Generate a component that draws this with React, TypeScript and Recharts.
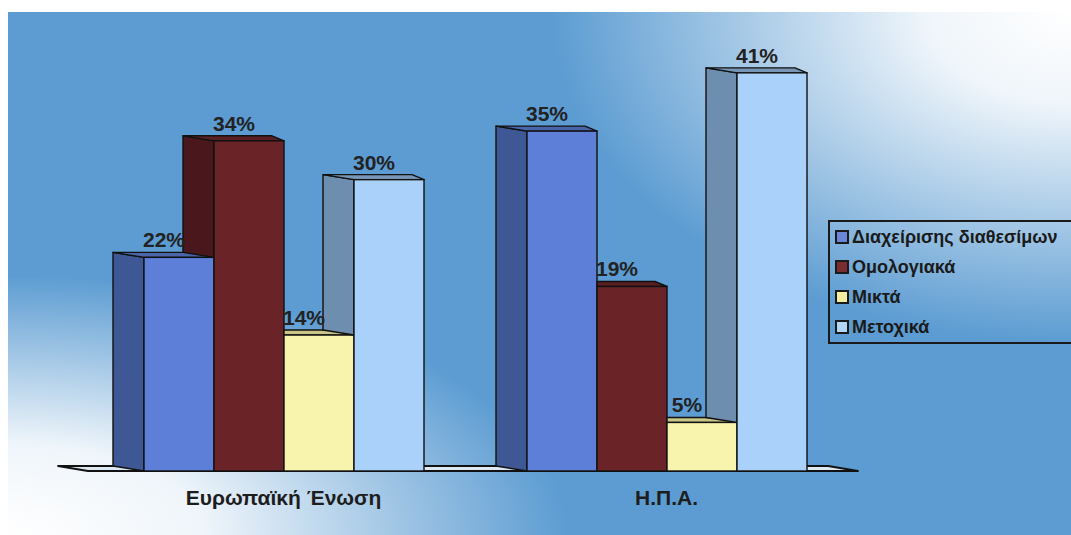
import React from "react";
import { BarChart, Bar, XAxis, YAxis, Legend, LabelList, usePlotArea } from "recharts";

const categories = ["Ευρωπαϊκή Ένωση", "Η.Π.Α."];
const seriesNames = ["Διαχείρισης διαθεσίμων", "Ομολογιακά", "Μικτά", "Μετοχικά"];
const diaxeirisi = [22, 35];
const omologiaka = [34, 19];
const mikta = [14, 5];
const metoxika = [30, 41];

const FONT = '"Liberation Sans", Arial, sans-serif';
const DX = 31;
const DY = 5;

const data = categories.map((name, i) => ({
  name,
  s0: diaxeirisi[i],
  s1: omologiaka[i],
  s2: mikta[i],
  s3: metoxika[i],
}));

const styles = [
  { front: "#5d7fd8", side: "#3e5895", top: "#4a66a8", legend: "#6a86d6" },
  { front: "#6a2428", side: "#4a181c", top: "#5a1f22", legend: "#7a2c31" },
  { front: "#f8f4ae", side: "#d4d08c", top: "#c9c487", legend: "#f4efa0" },
  { front: "#a9d1fa", side: "#6e8eb0", top: "#7896b5", legend: "#b2d6f6" },
];

function makeShape(idx: number) {
  const st = styles[idx];
  const prevKey = idx > 0 ? `s${idx - 1}` : null;
  return (props: any) => {
    const { x, y, width, height, payload, value } = props;
    const v = Array.isArray(value) ? value[1] - value[0] : value;
    const base = y + height;
    const ppu = v ? height / v : 0;
    const prevVal = prevKey ? payload[prevKey] : 0;
    const prevTop = base - prevVal * ppu;
    const sideVisible = prevTop > y;
    const sideBottom = Math.min(prevTop, base);
    return (
      <g>
        {sideVisible && (
          <polygon
            points={`${x},${y} ${x - DX},${y - DY} ${x - DX},${sideBottom - DY} ${x},${sideBottom}`}
            fill={st.side}
            stroke="#111"
            strokeWidth={1.4}
            strokeLinejoin="round"
          />
        )}
        <polygon
          points={
            sideVisible
              ? `${x},${y} ${x - DX},${y - DY} ${x + width - 12},${y - DY} ${x + width},${y}`
              : `${x},${y} ${x},${y - DY} ${x + width - 12},${y - DY} ${x + width},${y}`
          }
          fill={st.top}
          stroke="#111"
          strokeWidth={1.4}
          strokeLinejoin="round"
        />
        <rect x={x} y={y} width={width} height={height} fill={st.front} stroke="#111" strokeWidth={1.4} />
      </g>
    );
  };
}

function Floor() {
  const area = usePlotArea();
  if (!area) return null;
  const left = area.x - 4;
  const right = area.x + area.width;
  const bottom = area.y + area.height;
  return (
    <polygon
      points={`${left},${bottom} ${left - 30},${bottom - 5} ${right - 30},${bottom - 5} ${right},${bottom}`}
      fill="#dce9f3"
      stroke="#111"
      strokeWidth={1.8}
      strokeLinejoin="round"
    />
  );
}

const renderLabel = (props: any) => {
  const { x, y, width, value } = props;
  return (
    <text
      x={x + width / 2 - 15}
      y={y - 10}
      textAnchor="middle"
      fontFamily={FONT}
      fontWeight="bold"
      fontSize={21}
      fill="#222"
    >
      {`${value}%`}
    </text>
  );
};

const CategoryTick = (props: any) => {
  const { x, y, payload } = props;
  return (
    <text x={x} y={y + 26} textAnchor="middle" fontFamily={FONT} fontWeight="bold" fontSize={21} fill="#1d1d1d">
      {payload.value}
    </text>
  );
};

const LegendBox = (props: any) => {
  const { payload } = props;
  return (
    <div
      style={{
        border: "2px solid #1a1a1a",
        width: 260,
        fontFamily: FONT,
        fontWeight: "bold",
        fontSize: 18,
        color: "#1a1a1a",
        boxSizing: "border-box",
      }}
    >
      {(payload || []).map((entry: any, i: number) => (
        <div key={`leg-${i}`} style={{ display: "flex", alignItems: "center", height: 30, paddingLeft: 5 }}>
          <span
            style={{
              display: "inline-block",
              width: 10,
              height: 10,
              border: "2px solid #1a1a1a",
              background: entry.color,
              marginRight: 3,
              flexShrink: 0,
            }}
          />
          <span style={{ whiteSpace: "nowrap" }}>{entry.value}</span>
        </div>
      ))}
    </div>
  );
};

export default function App() {
  return (
    <div style={{ position: "absolute", left: 0, top: 0, width: 1071, height: 535, background: "#ffffff", overflow: "hidden" }}>
      <div
        style={{
          position: "absolute",
          left: 8,
          top: 12,
          width: 1063,
          height: 523,
          background:
            "radial-gradient(ellipse 520px 330px at 100% 0%, #ffffff 0%, rgba(255,255,255,0.9) 28%, rgba(255,255,255,0) 100%), radial-gradient(ellipse 560px 260px at 0% 100%, #ffffff 0%, rgba(255,255,255,0.9) 35%, rgba(255,255,255,0) 100%), #5c9cd2",
        }}
      />
      <div style={{ position: "absolute", left: 0, top: 0 }}>
        <BarChart
          width={1071}
          height={535}
          data={data}
          margin={{ top: 34, right: 213, bottom: 34, left: 92 }}
          barGap={0}
          barSize={70}
        >
          <Floor />
          <XAxis dataKey="name" axisLine={false} tickLine={false} height={30} tick={<CategoryTick />} interval={0} />
          <YAxis hide domain={[0, 45]} />
          <Legend
            layout="horizontal"
            align="center"
            verticalAlign="middle"
            itemSorter="dataKey"
            content={<LegendBox />}
            wrapperStyle={{ left: 828, top: 220, width: 260 }}
          />
          {seriesNames.map((n, i) => (
            <Bar
              key={n}
              dataKey={`s${i}`}
              name={n}
              fill={styles[i].legend}
              shape={makeShape(i)}
              isAnimationActive={false}
            >
              <LabelList dataKey={`s${i}`} content={renderLabel} />
            </Bar>
          ))}
        </BarChart>
      </div>
    </div>
  );
}
